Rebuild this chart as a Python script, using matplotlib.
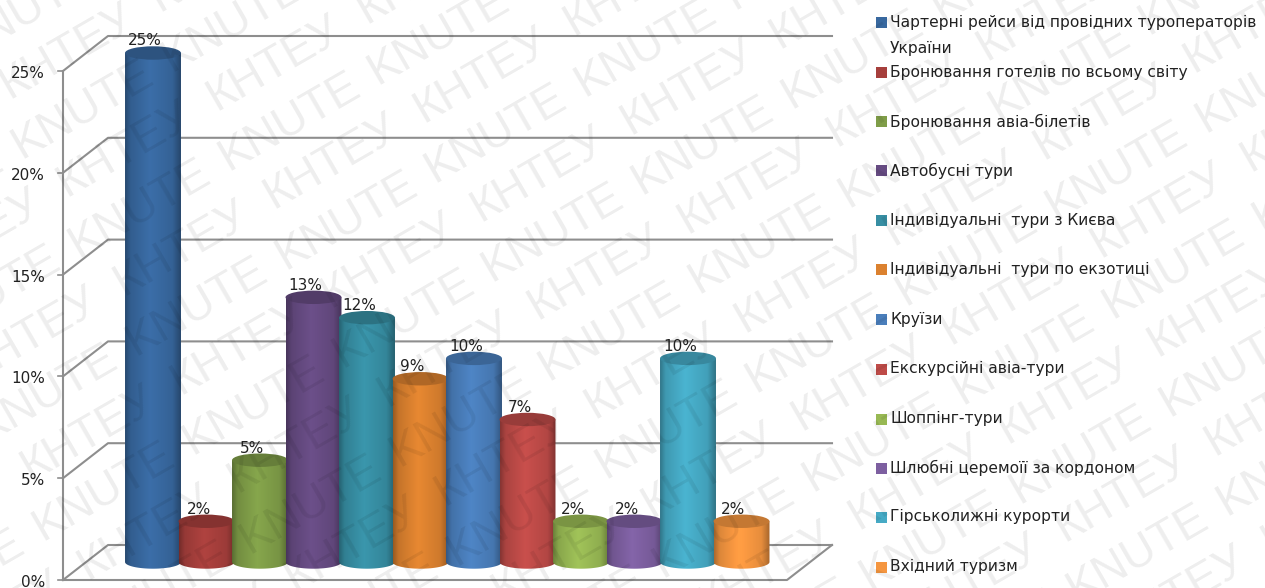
import numpy as np
import matplotlib
matplotlib.use("Agg")
import matplotlib.pyplot as plt
from matplotlib.patches import Ellipse, PathPatch, Rectangle
from matplotlib.path import Path

plt.rcParams['font.family'] = ['DejaVu Sans']

# Chart data
categories = [
    "Чартерні рейси від провідних туроператорів\nУкраїни",
    "Бронювання готелів по всьому світу",
    "Бронювання авіа-білетів",
    "Автобусні тури",
    "Індивідуальні  тури з Києва",
    "Індивідуальні  тури по екзотиці",
    "Круїзи",
    "Екскурсійні авіа-тури",
    "Шоппінг-тури",
    "Шлюбні церемоїї за кордоном",
    "Гірськолижні курорти",
    "Вхідний туризм",
]
values = [25, 2, 5, 13, 12, 9, 10, 7, 2, 2, 10, 2]
yticks = [0, 5, 10, 15, 20, 25]
colors = ['#38689F', '#A63F3C', '#7F9D48', '#664B82', '#378EA3', '#DB812F',
          '#4A7EBB', '#BE4B48', '#98B954', '#7D5FA0', '#46AAC5', '#F59640']

# Scale of the single full-figure axes: one category = 53.5 px, 1% = 20.36 px
PX_X = 53.5
PX_Y = 20.36
W, H = 1265, 588
fig = plt.figure(figsize=(W / 100, H / 100), dpi=100)
ax = fig.add_axes([0, 0, 1, 1])
ax.axis('off')

# Front-left corner of the box and depth of the 3D floor
x0 = (63 - 153) / PX_X
x1 = (787 - 153) / PX_X
dx = 45 / PX_X
dy = 35 / PX_Y
grid = '#8E8E8E'
text_c = '#222222'

# Walls and gridlines
for t in yticks:
    ax.plot([x0, x0 + dx, x1 + dx], [t, t + dy, t + dy], color=grid, lw=1.5, zorder=1)
    ax.plot([x0 - 5 / PX_X, x0], [t, t], color=grid, lw=1.2, zorder=1)
    ax.text((45 - 153) / PX_X, t - 2.5 / PX_Y, f"{t}%", ha='right', va='center', fontsize=11,
            color=text_c, zorder=1)
ax.plot([x0, x0], [0, max(yticks)], color=grid, lw=1.5, zorder=1)
ax.plot([x0, x1, x1 + dx], [0, 0, dy], color=grid, lw=1.5, zorder=1)

# Cylinders, later ones overlap earlier ones
half_w = 0.523
half_h = 6.7 / PX_Y
base = 18 / PX_Y
t_arc = np.linspace(np.pi, 2 * np.pi, 40)
shade = np.interp(np.linspace(0, 1, 120), [0, 0.1, 0.45, 0.85, 1], [0.7, 0.9, 1.06, 0.94, 0.68])

for i, (v, c) in enumerate(zip(values, colors)):
    rgb = np.array(matplotlib.colors.to_rgb(c))
    top = base + v
    bx = i + half_w * np.cos(t_arc)
    by = base + half_h * np.sin(t_arc)
    xs = np.r_[bx, i + half_w, i - half_w]
    ys = np.r_[by, top, top]
    body = PathPatch(Path(np.c_[xs, ys]), fc='none', ec='none', zorder=2 + i)
    ax.add_patch(body)
    img = np.clip(rgb[None, None, :] * shade[None, :, None], 0, 1)
    im = ax.imshow(img, extent=[i - half_w, i + half_w, base - half_h, top], aspect='auto',
                   zorder=2 + i, interpolation='bilinear')
    im.set_clip_path(body)
    ax.add_patch(Ellipse((i, top), 2 * half_w, 2 * half_h, fc=rgb * 0.8, ec='none', zorder=2 + i))
    ax.text(i - 8 / PX_X, top + 12 / PX_Y, f"{v}%", ha='center', va='center', fontsize=11,
            color=text_c, zorder=20)

ax.set_xlim(-153 / PX_X, (W - 153) / PX_X)
ax.set_ylim(-(H - 580) / PX_Y, 580 / PX_Y)

# Legend drawn by hand because of its uneven spacing
legend_y = [23, 73, 122, 171, 221, 270, 320, 369, 419, 468, 517, 567]
for label, c, py in zip(categories, colors, legend_y):
    yv = (580 - py) / PX_Y
    ax.add_patch(Rectangle(((876 - 153) / PX_X, yv - 5.5 / PX_Y), 11 / PX_X, 11 / PX_Y,
                           fc=c, ec='none', zorder=21))
    ax.text((890 - 153) / PX_X, yv + 8 / PX_Y, label, ha='left', va='top', fontsize=11.15,
            color=text_c, linespacing=1.95, zorder=21)

# Repeating diagonal stamp: rows of one word each, alternating down the figure
angle = np.radians(30)
u = np.array([np.cos(angle), -np.sin(angle)])
n = np.array([np.sin(angle), np.cos(angle)])
origin = np.array([423.0, 123.0])
stamp_rows = [("КНТЕУ", 0.0, 0.0), ("KNUTE", -20.0, 58.0)]
for r in range(-8, 9):
    for word, shift, offset in stamp_rows:
        for col in range(-10, 11):
            p = origin + (col * 173 + shift) * u + (r * 114 + offset) * n
            if -190 < p[0] < W + 30 and -30 < p[1] < H + 110:
                ax.text((p[0] - 153) / PX_X, (580 - p[1]) / PX_Y, word, rotation=30,
                        rotation_mode='anchor', ha='left', va='baseline', fontsize=33,
                        color='black', alpha=0.07, zorder=30, clip_on=True,
                        family='Liberation Sans')

fig.savefig('out.png', dpi=100)
